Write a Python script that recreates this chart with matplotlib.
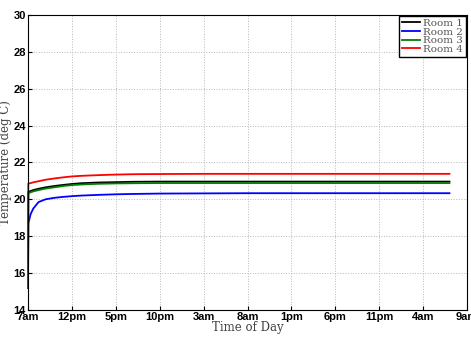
import matplotlib
matplotlib.use("Agg")
import matplotlib.pyplot as plt

hours = [0, 0.03, 0.3, 0.6, 1.2, 2, 3, 4, 5, 6, 8, 10, 12, 15, 20, 25, 30, 35, 40, 45, 48]
room1 = [15.2, 20.40, 20.45, 20.50, 20.57, 20.65, 20.72, 20.78, 20.83, 20.87, 20.91, 20.93, 20.95, 20.96, 20.96, 20.96, 20.96, 20.96, 20.96, 20.96, 20.96]
room2 = [15.2, 18.70, 19.20, 19.50, 19.85, 20.00, 20.08, 20.13, 20.17, 20.20, 20.24, 20.27, 20.29, 20.31, 20.32, 20.33, 20.33, 20.33, 20.33, 20.33, 20.33]
room3 = [15.2, 20.32, 20.38, 20.43, 20.50, 20.58, 20.65, 20.72, 20.77, 20.80, 20.84, 20.86, 20.87, 20.88, 20.88, 20.88, 20.88, 20.88, 20.88, 20.88, 20.88]
room4 = [15.2, 20.85, 20.88, 20.92, 20.98, 21.06, 21.13, 21.19, 21.24, 21.27, 21.31, 21.34, 21.36, 21.37, 21.38, 21.38, 21.38, 21.38, 21.38, 21.38, 21.38]
labels = ["Room 1", "Room 2", "Room 3", "Room 4"]
colors = ["#000000", "#0000ff", "#008000", "#ff0000"]
tick_hours = [0, 5, 10, 15, 20, 25, 30, 35, 40, 45, 50]
tick_labels = ["7am", "12pm", "5pm", "10pm", "3am", "8am", "1pm", "6pm", "11pm", "4am", "9am"]
yticks = [14, 16, 18, 20, 22, 24, 26, 28, 30]

fig = plt.figure(figsize=(4.71, 3.38), dpi=100)
ax = fig.add_axes([0.0595, 0.083, 0.932, 0.873])
for series, lab, c in zip([room1, room2, room3, room4], labels, colors):
    ax.plot(hours, series, color=c, lw=1.3, label=lab, clip_on=False)

ax.set_xlim(0, 50)
ax.set_ylim(14, 30)
ax.set_xticks(tick_hours)
ax.set_xticklabels(tick_labels, fontsize=8, fontweight="bold", family="Liberation Sans")
ax.set_yticks(yticks)
ax.set_yticklabels([str(v) for v in yticks], fontsize=8, fontweight="bold", family="Liberation Sans")
ax.tick_params(direction="in", length=3, width=0.8, pad=1.5)
ax.grid(True, linestyle=":", color="#b8b8b8", lw=0.7)
for s in ax.spines.values():
    s.set_linewidth(0.8)
ax.set_xlabel("Time of Day", family="DejaVu Serif", fontsize=8.5, color="#444444", labelpad=-1)
ax.set_ylabel("Temperature (deg C)", family="DejaVu Serif", fontsize=8.5, color="#444444", labelpad=1)
leg = ax.legend(loc="upper right", prop={"family": "DejaVu Serif", "size": 7.5},
                labelspacing=-0.05, handlelength=1.8, handletextpad=0.3, borderpad=0.25,
                borderaxespad=0.1, fancybox=False, framealpha=1)
leg.get_frame().set_edgecolor("black")
leg.get_frame().set_linewidth(1.0)
for t in leg.get_texts():
    t.set_color("#555555")
fig.savefig("out.png", dpi=100)
